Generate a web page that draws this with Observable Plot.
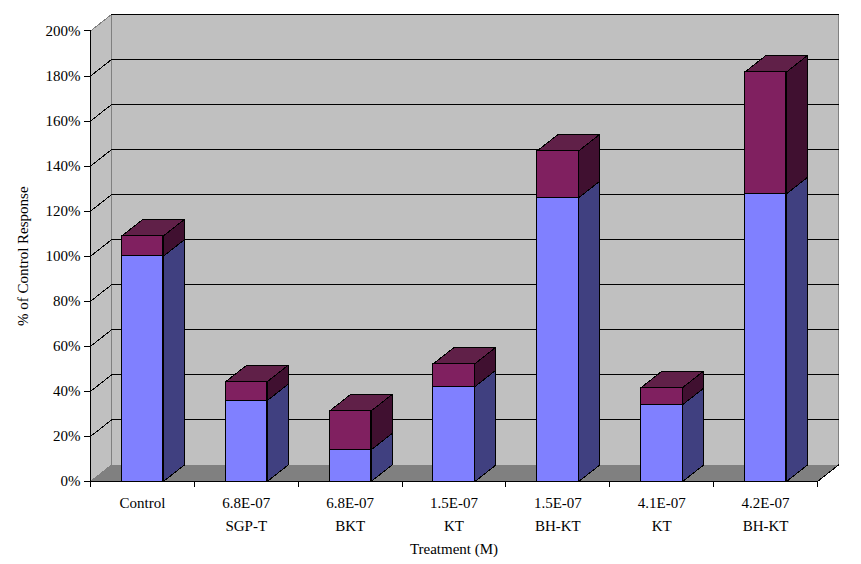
<!DOCTYPE html>
<html>
<head>
<meta charset="utf-8">
<script src="https://cdn.jsdelivr.net/npm/d3@7"></script>
<script src="https://cdn.jsdelivr.net/npm/@observablehq/plot@0.6"></script>
<style>
html, body { margin: 0; padding: 0; background: #fff; }
</style>
</head>
<body>
<div id="chart"></div>
<script>
const categories = ["Control", "6.8E-07\nSGP-T", "6.8E-07\nBKT", "1.5E-07\nKT", "1.5E-07\nBH-KT", "4.1E-07\nKT", "4.2E-07\nBH-KT"];
const lowerValues = [100, 35.9, 14, 42.1, 126, 34.1, 127.7];
const totalValues = [109, 44.3, 31.3, 52.3, 146.8, 41.7, 181.8];
const yTicks = [0, 20, 40, 60, 80, 100, 120, 140, 160, 180, 200];

// oblique depth of the 3-D box, in data units
const depthX = 21 / (727 / 7);
const depthY = 16.5 / 2.255;
const n = categories.length;
const barStart = 0.3015, barWidth = 0.4;

const shape = (pts, fill, stroke = "black") =>
  Plot.line([...pts, pts[0]].map(([x, y]) => ({x, y})), {x: "x", y: "y", fill, stroke, strokeWidth: 1});
const path = (pts, stroke) =>
  Plot.line(pts.map(([x, y]) => ({x, y})), {x: "x", y: "y", stroke, strokeWidth: 1});

const plot = Plot.plot({
  width: 861,
  height: 564,
  marginLeft: 90,
  marginRight: 23,
  marginTop: 14,
  marginBottom: 83,
  x: {type: "linear", domain: [0, n + depthX]},
  y: {type: "linear", domain: [0, 200 + depthY]},
  style: {fontFamily: "'Liberation Serif', serif", fontSize: "15px", color: "black", background: "white", shapeRendering: "crispEdges"},
  marks: [
    // walls and floor
    shape([[depthX, depthY], [n + depthX, depthY], [n + depthX, 200 + depthY], [depthX, 200 + depthY]], "#C0C0C0", "#808080"),
    shape([[0, 0], [depthX, depthY], [depthX, 200 + depthY], [0, 200]], "#C0C0C0", "#808080"),
    shape([[0, 0], [n, 0], [n + depthX, depthY], [depthX, depthY]], "#808080", "#808080"),
    path([[n, 0], [n + depthX, depthY]], "black"),
    // gridlines
    ...yTicks.filter((v) => v > 0 && v < 200).map((v) =>
      path([[0, v], [depthX, v + depthY], [n + depthX, v + depthY]], "black")),
    path([[depthX, 200 + depthY], [n + depthX, 200 + depthY]], "black"),
    // stacked bars
    ...categories.flatMap((c, i) => {
      const x0 = i + barStart, x1 = x0 + barWidth, b = lowerValues[i], t = totalValues[i];
      const row = [{x0, x1, b, t}];
      return [
        shape([[x1, 0], [x1 + depthX, depthY], [x1 + depthX, b + depthY], [x1, b]], "#404080"),
        shape([[x1, b], [x1 + depthX, b + depthY], [x1 + depthX, t + depthY], [x1, t]], "#401030"),
        shape([[x0, t], [x1, t], [x1 + depthX, t + depthY], [x0 + depthX, t + depthY]], "#602048"),
        Plot.rect(row, {x1: "x0", x2: "x1", y1: 0, y2: "b", fill: "#8080FF", stroke: "black", strokeWidth: 1}),
        Plot.rect(row, {x1: "x0", x2: "x1", y1: "b", y2: "t", fill: "#802060", stroke: "black", strokeWidth: 1})
      ];
    }),
    // axes
    Plot.ruleY([0], {x1: 0, x2: n, stroke: "black"}),
    Plot.ruleX([0], {y1: 0, y2: 200, stroke: "black"}),
    Plot.axisY(yTicks, {anchor: "left", tickSize: 6, tickPadding: 4, tickFormat: (d) => d + "%", label: null}),
    Plot.axisX(d3.range(n + 1), {anchor: "bottom", tickSize: 6, tickFormat: () => "", label: null}),
    Plot.axisX(d3.range(n).map((i) => i + 0.5), {anchor: "bottom", tickSize: 0, tickPadding: 11, lineHeight: 1.5, tickFormat: (d) => categories[Math.floor(d)], label: null}),
    Plot.text(["Treatment (M)"], {x: n / 2, frameAnchor: "bottom", dy: 72, text: (d) => d, textAnchor: "middle", fill: "black"}),
    Plot.text(["% of Control Response"], {y: 100, frameAnchor: "left", dx: -67, rotate: -90, text: (d) => d, textAnchor: "middle", fill: "black"})
  ]
});
document.getElementById("chart").appendChild(plot);
</script>
</body>
</html>
